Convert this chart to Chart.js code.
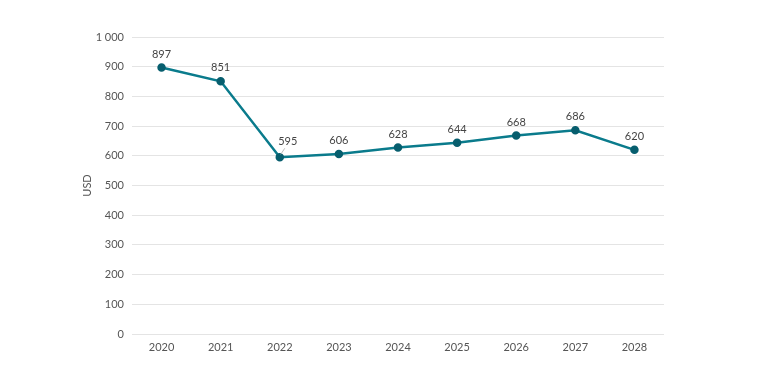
<!DOCTYPE html>
<html><head><meta charset="utf-8">
<script src="https://cdn.jsdelivr.net/npm/chart.js@4"></script>
<style>html,body{margin:0;padding:0;background:#fff}#wrap{width:757px;height:379px}</style>
</head><body><div id="wrap"><canvas id="c" width="757" height="379"></canvas></div>
<script>
const years = ['2020','2021','2022','2023','2024','2025','2026','2027','2028'];
const values = [897, 851, 595, 606, 628, 644, 668, 686, 620];
const yTicks = [0,100,200,300,400,500,600,700,800,900,1000];

const labelPlugin = {
  id: 'labels',
  afterDatasetsDraw(chart) {
    const ctx = chart.ctx;
    const meta = chart.getDatasetMeta(0);
    ctx.save();
    ctx.font = '11px Lato';
    ctx.fillStyle = '#444';
    ctx.textAlign = 'center';
    ctx.textBaseline = 'bottom';
    meta.data.forEach((pt, i) => {
      const v = values[i];
      if (i === 2) {
        ctx.strokeStyle = '#bbb';
        ctx.lineWidth = 1;
        ctx.beginPath();
        ctx.moveTo(pt.x + 1, pt.y - 3);
        ctx.lineTo(pt.x + 5, pt.y - 9);
        ctx.stroke();
        ctx.fillText(String(v), pt.x + 8, pt.y - 10);
      } else {
        ctx.fillText(String(v), pt.x, pt.y - 8);
      }
    });
    ctx.restore();
  }
};

new Chart(document.getElementById('c'), {
  type: 'line',
  data: {
    labels: years,
    datasets: [{
      data: values,
      borderColor: '#0a7b8c',
      borderWidth: 2.5,
      pointBackgroundColor: '#075e6e',
      pointBorderColor: '#075e6e',
      pointRadius: 3,
      tension: 0,
      fill: false
    }]
  },
  options: {
    responsive: false,
    animation: false,
    layout: { padding: { left: 81, right: 93, top: 37, bottom: 21 } },
    plugins: { legend: { display: false }, tooltip: { enabled: false } },
    scales: {
      x: {
        offset: true,
        grid: { display: false, drawTicks: false },
        border: { display: false },
        afterFit: s => { s.height = 24; },
        ticks: { color: '#555', font: { family: 'Lato', size: 11 }, padding: 7 }
      },
      y: {
        min: 0, max: 1000,
        afterBuildTicks: s => { s.ticks = yTicks.map(v => ({ value: v })); },
        afterFit: s => { s.width = 51; },
        grid: { color: '#e4e4e4', drawTicks: false },
        border: { display: false },
        title: { display: true, text: 'USD', color: '#555', font: { family: 'Lato', size: 11 }, padding: 0 },
        ticks: {
          color: '#555', font: { family: 'Lato', size: 11 }, padding: 8,
          callback: v => v >= 1000 ? String(v).replace(/\B(?=(\d{3})+(?!\d))/g, ' ') : String(v)
        }
      }
    }
  },
  plugins: [labelPlugin]
});
</script></body></html>
